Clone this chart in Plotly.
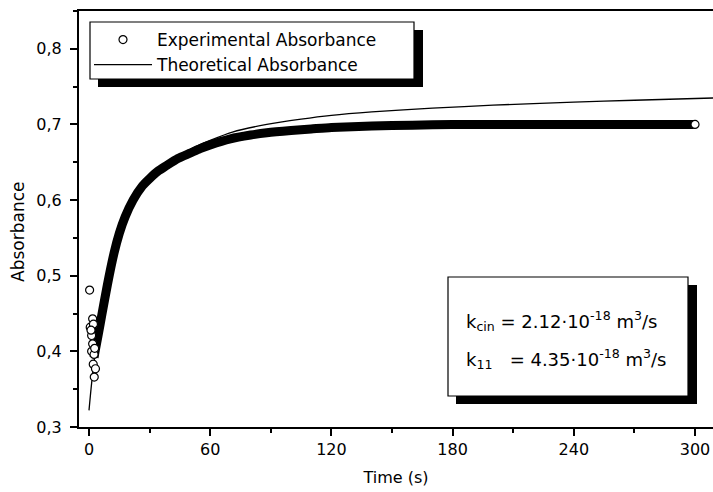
import plotly.graph_objects as go

# ---- data ----
time_exp = [2.5, 3.0, 4.5, 6.4, 9.1, 12.4, 15, 17.9, 21.8, 26.5, 30.2, 34, 38, 44,
            50, 55, 60, 70, 80, 88, 100, 110, 120, 140, 160, 180, 200, 240, 280, 300]
abs_exp = [0.392, 0.400, 0.421, 0.449, 0.488, 0.530, 0.556, 0.578, 0.600, 0.619,
           0.629, 0.638, 0.645, 0.655, 0.662, 0.668, 0.673, 0.681, 0.686, 0.689,
           0.692, 0.694, 0.696, 0.698, 0.699, 0.700, 0.700, 0.700, 0.700, 0.700]

time_pts = [0.3, 1.8, 0.6, 2.2, 1.3, 1.8, 1.3, 2.5, 2.1, 3.2, 2.6, 1.0, 2.8, 300]
abs_pts = [0.481, 0.443, 0.432, 0.436, 0.421, 0.410, 0.400, 0.396, 0.383, 0.377,
           0.366, 0.428, 0.404, 0.700]

time_theo = [0, 1.3, 3, 4.5, 6.4, 9.1, 12.4, 17.9, 26.5, 38, 50, 60, 71, 88, 105,
             120, 140, 170, 200, 240, 270, 309]
abs_theo = [0.322, 0.358, 0.397, 0.420, 0.448, 0.490, 0.533, 0.580, 0.622, 0.649,
            0.667, 0.679, 0.690, 0.700, 0.707, 0.712, 0.7165, 0.7215, 0.7255,
            0.7295, 0.732, 0.735]

x_ticks = [0, 60, 120, 180, 240, 300]
y_ticks = [0.3, 0.4, 0.5, 0.6, 0.7, 0.8]

legend_names = ["Experimental Absorbance", "Theoretical Absorbance"]
param_lines = ["k<sub>cin</sub> = 2.12·10<sup>-18</sup> m<sup>3</sup>/s",
               "k<sub>11</sub>\u00a0\u00a0 = 4.35·10<sup>-18</sup> m<sup>3</sup>/s"]

# ---- layout geometry ----
W, H = 713, 492
L, R, T, B = 79, 0, 11, 65
PW, PH = W - L - R, H - T - B


def px_x(px):
    return (px - L) / PW


def px_y(py):
    return (H - B - py) / PH


FONT = "DejaVu Sans, Liberation Sans, Arial, sans-serif"

fig = go.Figure()

# dense experimental band (overlapping open circles in the original)
fig.add_trace(go.Scatter(x=time_exp, y=abs_exp, mode="lines",
                         line=dict(color="black", width=9, shape="spline",
                                   smoothing=0.6),
                         showlegend=False, hoverinfo="skip"))

fig.add_trace(go.Scatter(x=time_theo, y=abs_theo, mode="lines",
                         name=legend_names[1], legendrank=2,
                         line=dict(color="black", width=1.3, shape="spline",
                                   smoothing=0.8)))

fig.add_trace(go.Scatter(x=time_pts, y=abs_pts, mode="markers",
                         name=legend_names[0], legendrank=1,
                         marker=dict(symbol="circle", size=8, color="white",
                                     line=dict(color="black", width=1.2))))

shapes = [
    # legend shadow + box
    dict(type="rect", xref="paper", yref="paper", x0=px_x(98), x1=px_x(423),
         y0=px_y(87), y1=px_y(30), fillcolor="black", line=dict(width=0)),
    dict(type="rect", xref="paper", yref="paper", x0=px_x(90), x1=px_x(414),
         y0=px_y(79), y1=px_y(22), fillcolor="white",
         line=dict(color="black", width=1.2)),
    # parameter box shadow + box
    dict(type="rect", xref="paper", yref="paper", x0=px_x(456), x1=px_x(697),
         y0=px_y(404), y1=px_y(285), fillcolor="black", line=dict(width=0)),
    dict(type="rect", xref="paper", yref="paper", x0=px_x(448), x1=px_x(688),
         y0=px_y(396), y1=px_y(277), fillcolor="white",
         line=dict(color="black", width=1.2)),
]

annotations = [
    dict(xref="paper", yref="paper", x=px_x(464), y=px_y(321), text=param_lines[0],
         showarrow=False, xanchor="left", yanchor="middle",
         font=dict(family=FONT, size=18, color="black")),
    dict(xref="paper", yref="paper", x=px_x(464), y=px_y(359), text=param_lines[1],
         showarrow=False, xanchor="left", yanchor="middle",
         font=dict(family=FONT, size=18, color="black")),
    # y-axis title
    dict(xref="paper", yref="paper", x=px_x(18), y=px_y(232), text="Absorbance",
         textangle=-90, showarrow=False, xanchor="center", yanchor="middle",
         font=dict(family=FONT, size=17, color="black")),
]

fig.update_layout(
    width=W, height=H,
    margin=dict(l=L, r=R, t=T, b=B, pad=0),
    paper_bgcolor="white", plot_bgcolor="white",
    separators=",.",
    font=dict(family=FONT, size=16, color="black"),
    shapes=shapes, annotations=annotations,
    legend=dict(x=px_x(89), y=px_y(22), xanchor="left", yanchor="top",
                bgcolor="rgba(0,0,0,0)", borderwidth=0,
                font=dict(family=FONT, size=17, color="black"),
                itemwidth=58, tracegroupgap=0),
)

fig.update_xaxes(
    range=[-4.95, 308.9], tickmode="array", tickvals=x_ticks,
    ticks="outside", ticklen=7, tickwidth=1.5, tickcolor="black",
    showline=True, linewidth=2, linecolor="black", mirror=True,
    showgrid=False, zeroline=False,
    minor=dict(dtick=30, tick0=0, ticks="outside", ticklen=4, tickwidth=1.5,
               tickcolor="black", showgrid=False),
    tickfont=dict(family=FONT, size=16),
    title=dict(text="Time (s)", font=dict(family=FONT, size=16), standoff=14),
)

fig.update_yaxes(
    range=[0.3, 0.85], tickmode="array", tickvals=y_ticks, tickformat=".1f",
    ticks="outside", ticklen=7, tickwidth=1.5, tickcolor="black",
    showline=True, linewidth=2, linecolor="black", mirror=False,
    showgrid=False, zeroline=False,
    minor=dict(dtick=0.05, tick0=0.3, ticks="outside", ticklen=4, tickwidth=1.5,
               tickcolor="black", showgrid=False),
    tickfont=dict(family=FONT, size=16), ticklabelstandoff=5,
)

fig.write_html("out.html")
